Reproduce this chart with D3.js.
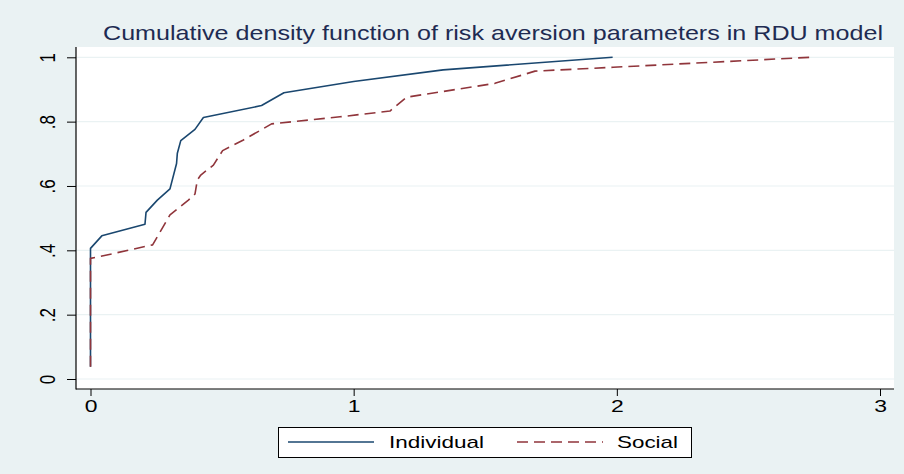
<!DOCTYPE html>
<html>
<head>
<meta charset="utf-8">
<script src="https://cdn.jsdelivr.net/npm/d3@7"></script>
<style>
  html, body { margin: 0; padding: 0; background: #eaf2f3; }
  svg { display: block; }
  text { font-family: "Liberation Sans", Arial, Helvetica, sans-serif; }
</style>
</head>
<body>
<svg id="chart" width="904" height="474"></svg>
<script>
// ---- data ----
const titleText = "Cumulative density function of risk aversion parameters in RDU model";
const seriesNames = ["Individual", "Social"];
const individualX = [0, 0, 0.043, 0.207, 0.211, 0.254, 0.302, 0.327, 0.330, 0.343, 0.397, 0.429, 0.650, 0.735, 1.0, 1.340, 1.984];
const individualY = [0.038, 0.406, 0.445, 0.481, 0.518, 0.556, 0.591, 0.670, 0.702, 0.741, 0.776, 0.813, 0.850, 0.890, 0.925, 0.961, 1.0];
const socialX = [0, 0, 0.032, 0.236, 0.287, 0.302, 0.372, 0.397, 0.406, 0.419, 0.467, 0.502, 0.581, 0.688, 0.948, 1.138, 1.201, 1.537, 1.689, 1.986, 2.734];
const socialY = [0.038, 0.375, 0.380, 0.417, 0.489, 0.510, 0.556, 0.575, 0.619, 0.634, 0.665, 0.710, 0.743, 0.793, 0.815, 0.833, 0.876, 0.919, 0.957, 0.969, 1.0];
const xTicks = [0, 1, 2, 3];
const xTickLabels = ["0", "1", "2", "3"];
const yTicks = [0, 0.2, 0.4, 0.6, 0.8, 1];
const yTickLabels = ["0", ".2", ".4", ".6", ".8", "1"];

// ---- layout ----
const W = 904, H = 474;
const plot = { left: 76, right: 894, top: 47, bottom: 389 };
const colors = { ind: "#1a476f", soc: "#90353b", bg: "#eaf2f3", grid: "#eaf2f3", title: "#1e2b52" };

const svg = d3.select("#chart");
svg.append("rect").attr("width", W).attr("height", H).attr("fill", colors.bg);
svg.append("rect")
  .attr("x", plot.left).attr("y", plot.top)
  .attr("width", plot.right - plot.left).attr("height", plot.bottom - plot.top)
  .attr("fill", "#ffffff");

const x = d3.scaleLinear().domain([0, 3]).range([90.5, 880]);
const y = d3.scaleLinear().domain([0, 1]).range([379, 57.3]);

// gridlines
svg.append("g").selectAll("line").data(yTicks).join("line")
  .attr("x1", plot.left).attr("x2", plot.right)
  .attr("y1", d => y(d)).attr("y2", d => y(d))
  .attr("stroke", colors.grid).attr("stroke-width", 1.2);

// axes
const yAxis = d3.axisLeft(y).tickValues(yTicks).tickSize(9).tickPadding(0)
  .tickFormat((d, i) => yTickLabels[i]);
const gy = svg.append("g").attr("transform", `translate(${plot.left},0)`).call(yAxis);
gy.select(".domain").remove();
gy.selectAll(".tick line").attr("stroke", "#000").attr("stroke-width", 1);
gy.selectAll(".tick text")
  .attr("x", null).attr("dy", null).attr("fill", "#000")
  .attr("font-size", 17).attr("text-anchor", "middle")
  .attr("transform", "translate(-21,0) scale(1.35,1) rotate(-90)");

const xAxis = d3.axisBottom(x).tickValues(xTicks).tickSize(7).tickPadding(0)
  .tickFormat((d, i) => xTickLabels[i]);
const gx = svg.append("g").attr("transform", `translate(0,${plot.bottom})`).call(xAxis);
gx.select(".domain").remove();
gx.selectAll(".tick line").attr("stroke", "#000").attr("stroke-width", 1);
gx.selectAll(".tick text")
  .attr("y", null).attr("dy", null).attr("fill", "#000")
  .attr("font-size", 17).attr("text-anchor", "middle")
  .attr("transform", "translate(0,23) scale(1.35,1)");

svg.append("line").attr("x1", plot.left).attr("x2", plot.left)
  .attr("y1", plot.top).attr("y2", plot.bottom + 0.5)
  .attr("stroke", "#000").attr("stroke-width", 1.2);
svg.append("line").attr("x1", plot.left).attr("x2", plot.right)
  .attr("y1", plot.bottom).attr("y2", plot.bottom)
  .attr("stroke", "#000").attr("stroke-width", 1.2);

// lines
const line = d3.line().x(d => x(d[0])).y(d => y(d[1]));
const indData = individualX.map((v, i) => [v, individualY[i]]);
const socData = socialX.map((v, i) => [v, socialY[i]]);
svg.append("path").datum(indData).attr("d", line)
  .attr("fill", "none").attr("stroke", colors.ind).attr("stroke-width", 1.6)
  .attr("stroke-linejoin", "round");
svg.append("path").datum(socData).attr("d", line)
  .attr("fill", "none").attr("stroke", colors.soc).attr("stroke-width", 1.6)
  .attr("stroke-dasharray", "11,6").attr("stroke-linejoin", "round");

// title
svg.append("text").text(titleText)
  .attr("x", 103).attr("y", 40)
  .attr("font-size", 21).attr("fill", colors.title)
  .attr("textLength", 780).attr("lengthAdjust", "spacingAndGlyphs");

// legend
const lg = svg.append("g");
lg.append("rect").attr("x", 278.5).attr("y", 427.5).attr("width", 413).attr("height", 30)
  .attr("fill", "#fff").attr("stroke", "#000").attr("stroke-width", 1);
lg.append("line").attr("x1", 288).attr("x2", 374).attr("y1", 442).attr("y2", 442)
  .attr("stroke", colors.ind).attr("stroke-width", 1.6);
lg.append("text").text(seriesNames[0]).attr("x", 389).attr("y", 447.5)
  .attr("font-size", 17).attr("fill", "#000")
  .attr("textLength", 95).attr("lengthAdjust", "spacingAndGlyphs");
lg.append("line").attr("x1", 517).attr("x2", 603).attr("y1", 442).attr("y2", 442)
  .attr("stroke", colors.soc).attr("stroke-width", 1.6).attr("stroke-dasharray", "11,6");
lg.append("text").text(seriesNames[1]).attr("x", 617).attr("y", 447.5)
  .attr("font-size", 17).attr("fill", "#000")
  .attr("textLength", 61).attr("lengthAdjust", "spacingAndGlyphs");
</script>
</body>
</html>
